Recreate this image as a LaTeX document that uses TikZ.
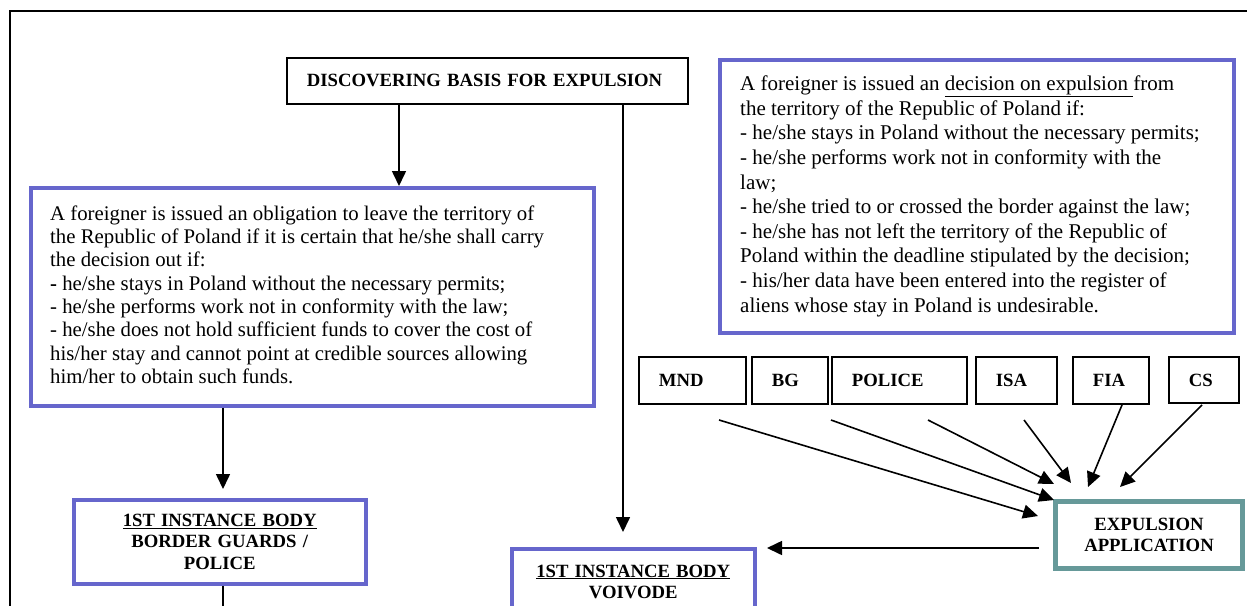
\documentclass[tikz,border=0pt]{standalone}
\usepackage{fontspec}
\setmainfont{Liberation Serif}
\usetikzlibrary{arrows.meta}
\definecolor{bluebd}{RGB}{102,102,204}
\definecolor{tealbd}{RGB}{102,153,153}
\newcommand\lblfont{\fontsize{18.7}{21.5}\selectfont\bfseries}
\begin{document}
\begin{tikzpicture}[x=1pt,y=-1pt,
  blackbox/.style={draw=black, line width=1.8pt, fill=white, anchor=north west, inner ysep=0pt, font=\lblfont},
  smallbox/.style={blackbox, inner xsep=20pt, align=left},
  bluebox/.style={draw=bluebd, line width=3.5pt, fill=white, anchor=north west, inner ysep=0pt},
  paratext/.style={anchor=west, align=left, inner sep=0pt},
  tealbox/.style={draw=tealbd, line width=5pt, fill=white, anchor=north west, inner ysep=0pt, font=\lblfont, align=center},
  arr/.style={line width=1.6pt, -{Triangle[length=15pt,width=14pt]}},
  plain/.style={line width=1.6pt}]
\useasboundingbox (0,0) rectangle (1247,605);
\clip (0,0) rectangle (1247,605);
\fill[white] (0,0) rectangle (1247,605);
% frame
\coordinate (fbl) at (10,660);
\coordinate (ftl) at (10,11);
\coordinate (ftr) at (1270,11);
\draw[line width=2pt] (fbl) -- (ftl) -- (ftr);
% column coordinates
\coordinate (cA) at (399,0);
\coordinate (cB) at (623,0);
\coordinate (cC) at (223,0);
\coordinate (cD) at (223,660);
% boxes
\node[blackbox, minimum height=46pt, text width=361pt, inner xsep=20pt, align=left] (disc) at (286,57) {DISCOVERING BASIS FOR EXPULSION};
\node[bluebox, minimum height=218pt, minimum width=563pt] (obl) at (29,186) {};
\node[paratext, font=\fontsize{20.8}{23.3}\selectfont] (oblt) at ([xshift=21pt,yshift=2pt]obl.west) {A foreigner is issued an obligation to leave the territory of\\
the Republic of Poland if it is certain that he/she shall carry\\
the decision out if:\\
\textbf{-} he/she stays in Poland without the necessary permits;\\
- he/she performs work not in conformity with the law;\\
- he/she does not hold sufficient funds to cover the cost of\\
his/her stay and cannot point at credible sources allowing\\
him/her to obtain such funds.};
\node[bluebox, minimum height=273pt, minimum width=514pt] (dec) at (718,58) {};
\node[paratext, font=\fontsize{21}{24.6}\selectfont] (dect) at ([xshift=22pt,yshift=0pt]dec.west) {A foreigner is issued an \underline{decision on expulsion\ }from\\
the territory of the Republic of Poland if:\\
- he/she stays in Poland without the necessary permits;\\
- he/she performs work not in conformity with the\\
law;\\
- he/she tried to or crossed the border against the law;\\
- he/she has not left the territory of the Republic of\\
Poland within the deadline stipulated by the decision;\\
- his/her data have been entered into the register of\\
aliens whose stay in Poland is undesirable.};
\node[bluebox, minimum height=84pt, text width=252pt, inner xsep=20pt, align=center, font=\lblfont] (bgp) at (72,498) {\underline{1ST INSTANCE BODY}\\BORDER GUARDS /\\POLICE};
\node[bluebox, minimum height=66pt, text width=203pt, inner xsep=20pt, align=center, font=\lblfont] (voi) at (510,547) {\underline{1ST INSTANCE BODY}\\VOIVODE};
\node[tealbox, minimum height=67pt, minimum width=187pt] (exp) at (1053,499) {EXPULSION\\APPLICATION};
% small boxes
\node[smallbox, minimum height=47pt, text width=67pt] (mnd) at (638,356) {MND};
\node[smallbox, minimum height=47pt, text width=36pt] (bg) at (751,356) {BG};
\node[smallbox, minimum height=47pt, text width=95pt] (pol) at (831,356) {POLICE};
\node[smallbox, minimum height=47pt, text width=41pt] (isa) at (975,356) {ISA};
\node[smallbox, minimum height=47pt, text width=36pt] (fia) at (1072,356) {FIA};
\node[smallbox, minimum height=46pt, text width=30pt] (cs) at (1168,356) {CS};
% connectors
\draw[arr] (disc.south -| cA) -- (obl.north -| cA);
\draw[arr, shorten >=15pt] (disc.south -| cB) -- (voi.north -| cB);
\draw[arr, shorten >=9pt] (obl.south -| cC) -- (bgp.north -| cC);
\draw[plain] (bgp.south -| cC) -- (cD);
% agency arrows
\coordinate (m1) at (719,420); \coordinate (m2) at (1038,516);
\coordinate (b1) at (831,420); \coordinate (b2) at (1054,500);
\coordinate (p1) at (928,420); \coordinate (p2) at (1054,484);
\coordinate (i1) at (1024,420); \coordinate (i2) at (1071,483);
\coordinate (f1) at (1122,405); \coordinate (f2) at (1088,487);
\coordinate (s1) at (1202,405); \coordinate (s2) at (1120,487);
\draw[arr] (m1) -- (m2);
\draw[arr] (b1) -- (b2);
\draw[arr] (p1) -- (p2);
\draw[arr] (i1) -- (i2);
\draw[arr] (f1) -- (f2);
\draw[arr] (s1) -- (s2);
\coordinate (h1) at (1039,548); \coordinate (h2) at (767,548);
\draw[arr] (h1) -- (h2);
\end{tikzpicture}
\end{document}
